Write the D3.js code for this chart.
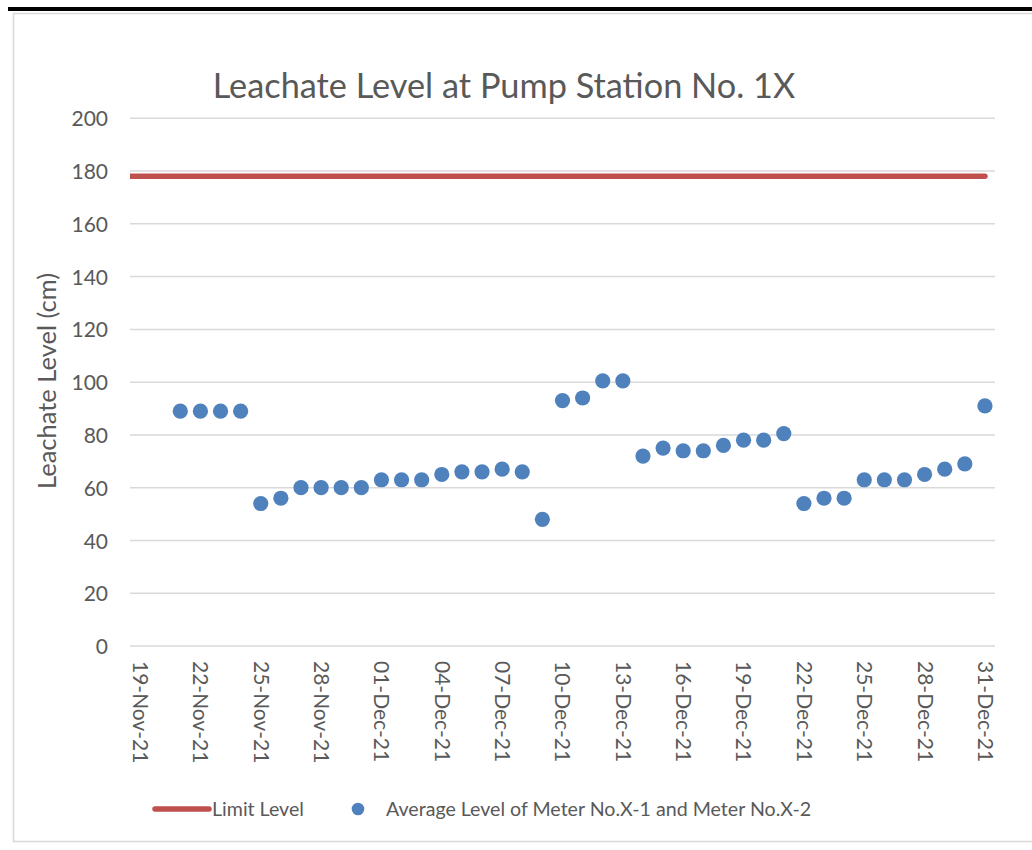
<!DOCTYPE html>
<meta charset="utf-8">
<style>
body { margin: 0; background: #fff; }
text { font-family: Lato, "Noto Sans", sans-serif; fill: #595959; }
.grid line { stroke: #d9d9d9; stroke-width: 1.5; }
</style>
<svg width="1032" height="850"></svg>
<script src="https://d3js.org/d3.v7.min.js"></script>
<script>

// daily readings, 21-Nov-21 .. 31-Dec-21
var startDate = "2021-11-21";
var levels = [89, 89, 89, 89, 54, 56, 60, 60, 60, 60,
              63, 63, 63, 65, 66, 66, 67, 66, 48, 93,
              94, 100.5, 100.5, 72, 75, 74, 74, 76, 78, 78,
              80.5, 54, 56, 56, 63, 63, 63, 65, 67, 69, 91];
var limitLevel = 178;
var yTicks = [0, 20, 40, 60, 80, 100, 120, 140, 160, 180, 200];
var legendNames = ["Limit Level", "Average Level of Meter No.X-1 and Meter No.X-2"];

var parse = d3.timeParse("%Y-%m-%d");
var fmt = d3.timeFormat("%d-%b-%y");
var data = levels.map(function(v, i) {
  return { date: d3.timeDay.offset(parse(startDate), i), value: v };
});

var svg = d3.select("svg");

// frame
svg.append("rect").attr("x", 8).attr("y", 7).attr("width", 1030).attr("height", 4).attr("fill", "#000");
svg.append("rect").attr("x", 13.5).attr("y", 13.5).attr("width", 1030).attr("height", 828)
   .attr("fill", "none").attr("stroke", "#d9d9d9").attr("stroke-width", 1.5);

var plotL = 130, plotR = 995, plotT = 118.3, plotB = 646;

var x = d3.scaleTime()
    .domain([d3.timeHour.offset(parse("2021-11-19"), -12), d3.timeHour.offset(parse("2021-12-31"), 12)])
    .range([plotL, plotR]);
var y = d3.scaleLinear().domain([0, 200]).range([plotB, plotT]);

svg.append("defs").append("clipPath").attr("id", "plot")
   .append("rect").attr("x", plotL).attr("y", 0).attr("width", plotR - plotL + 10).attr("height", plotB + 10);

// gridlines
svg.append("g").attr("class", "grid")
   .selectAll("line").data(yTicks).enter().append("line")
   .attr("x1", plotL).attr("x2", plotR)
   .attr("y1", function(d) { return y(d); })
   .attr("y2", function(d) { return y(d); });

// y axis labels
var yAxis = svg.append("g")
   .attr("transform", "translate(" + (plotL - 22) + ",0)")
   .call(d3.axisLeft(y).tickValues(yTicks).tickSize(0).tickPadding(0));
yAxis.select(".domain").remove();
yAxis.selectAll("text").attr("font-size", 21).attr("fill", "#595959")
   .style("font-family", "Lato").attr("dy", "0.36em");

// x axis labels
var xTicks = d3.timeDay.range(parse("2021-11-19"), parse("2022-01-01"), 3);
var xAxis = svg.append("g")
   .attr("transform", "translate(0," + plotB + ")")
   .call(d3.axisBottom(x).tickValues(xTicks).tickFormat(fmt).tickSize(0));
xAxis.select(".domain").remove();
xAxis.selectAll("text")
   .attr("font-size", 21).attr("fill", "#595959").style("font-family", "Lato")
   .attr("text-anchor", "start")
   .attr("transform", "rotate(90)")
   .attr("x", 15).attr("y", 0).attr("dy", "0.36em");

// limit line
var lastDate = data[data.length - 1].date;
svg.append("line")
   .attr("clip-path", "url(#plot)")
   .attr("x1", x.range()[0] - 4).attr("x2", x(lastDate))
   .attr("y1", y(limitLevel)).attr("y2", y(limitLevel))
   .attr("stroke", "#c0504d").attr("stroke-width", 5.5).attr("stroke-linecap", "round");

// points
svg.append("g").selectAll("circle").data(data).enter().append("circle")
   .attr("cx", function(d) { return x(d.date); })
   .attr("cy", function(d) { return y(d.value); })
   .attr("r", 7.6)
   .attr("fill", "#4f81bd");

// title
svg.append("text").attr("x", 504).attr("y", 98)
   .attr("text-anchor", "middle").attr("font-size", 34.3)
   .text("Leachate Level at Pump Station No. 1X");

// y axis title
svg.append("text")
   .attr("transform", "translate(56,381) rotate(-90)")
   .attr("text-anchor", "middle").attr("font-size", 25.5)
   .text("Leachate Level (cm)");

// legend
var lg = svg.append("g");
lg.append("line").attr("x1", 155).attr("x2", 209).attr("y1", 809).attr("y2", 809)
  .attr("stroke", "#c0504d").attr("stroke-width", 5.5).attr("stroke-linecap", "round");
lg.append("text").attr("x", 212).attr("y", 815.5).attr("font-size", 19.6).text(legendNames[0]);
lg.append("circle").attr("cx", 358).attr("cy", 809).attr("r", 6.3).attr("fill", "#4f81bd");
lg.append("text").attr("x", 386).attr("y", 815.5).attr("font-size", 19.6).text(legendNames[1]);

</script>
